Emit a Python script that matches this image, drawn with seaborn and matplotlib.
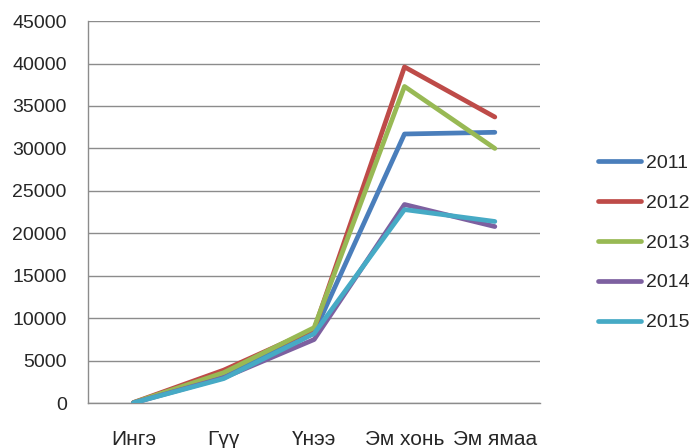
import numpy as np
import pandas as pd
import matplotlib
matplotlib.use('Agg')
import matplotlib.pyplot as plt
import seaborn as sns

# categories and values
animals = ['Ингэ', 'Гүү', 'Үнээ', 'Эм хонь', 'Эм ямаа']
years = ['2011', '2012', '2013', '2014', '2015']
v2011 = [50, 3200, 8300, 31700, 31900]
v2012 = [80, 3900, 8700, 39600, 33700]
v2013 = [70, 3600, 8900, 37300, 30000]
v2014 = [40, 3000, 7500, 23400, 20800]
v2015 = [40, 2900, 8200, 22800, 21400]
colors = ['#4A7EBB', '#BE4B48', '#98B954', '#7D60A0', '#46AAC5']

#%%
# build long table for seaborn
rows = []
for yr, vals in zip(years, [v2011, v2012, v2013, v2014, v2015]):
    for a, v in zip(animals, vals):
        rows.append({'animal': a, 'year': yr, 'value': v})
df = pd.DataFrame(rows)

sns.set_style('white')
plt.rcParams['font.family'] = ['Liberation Sans', 'DejaVu Sans']

fig, ax = plt.subplots(figsize=(6.95, 4.48), dpi=100)
fig.subplots_adjust(left=0.127, right=0.777, top=0.953, bottom=0.10)

sns.lineplot(data=df, x='animal', y='value', hue='year', palette=colors,
             linewidth=3.4, sort=False, ax=ax, zorder=3)

ax.set_xlim(-0.5, 4.5)
ax.set_ylim(0, 45000)
ax.set_yticks(np.arange(0, 45001, 5000))
ax.yaxis.grid(True, color='#8c8c8c', linewidth=1)
ax.set_axisbelow(True)
ax.set_xlabel('')
ax.set_ylabel('')

for s in ['top', 'right']:
    ax.spines[s].set_visible(False)
for s in ['left', 'bottom']:
    ax.spines[s].set_color('#8c8c8c')
    ax.spines[s].set_linewidth(1)

ax.set_xticks(range(len(animals)))
ax.set_xticklabels(animals)
ax.set_xticks(np.arange(-0.5, 4.6, 1), minor=True)
ax.tick_params(axis='x', which='major', length=0, pad=19, labelsize=15)
ax.tick_params(axis='x', which='minor', length=4.5, color='#8c8c8c', width=1)
ax.tick_params(axis='y', length=6.5, color='#8c8c8c', width=1, labelsize=14, pad=9)

leg = ax.legend(loc='center left', bbox_to_anchor=(1.09, 0.42), frameon=False,
                fontsize=14, handlelength=2.2, labelspacing=1.15, handletextpad=0.26)
for line in leg.get_lines():
    line.set_linewidth(3.4)

plt.savefig('out.png', dpi=100)
